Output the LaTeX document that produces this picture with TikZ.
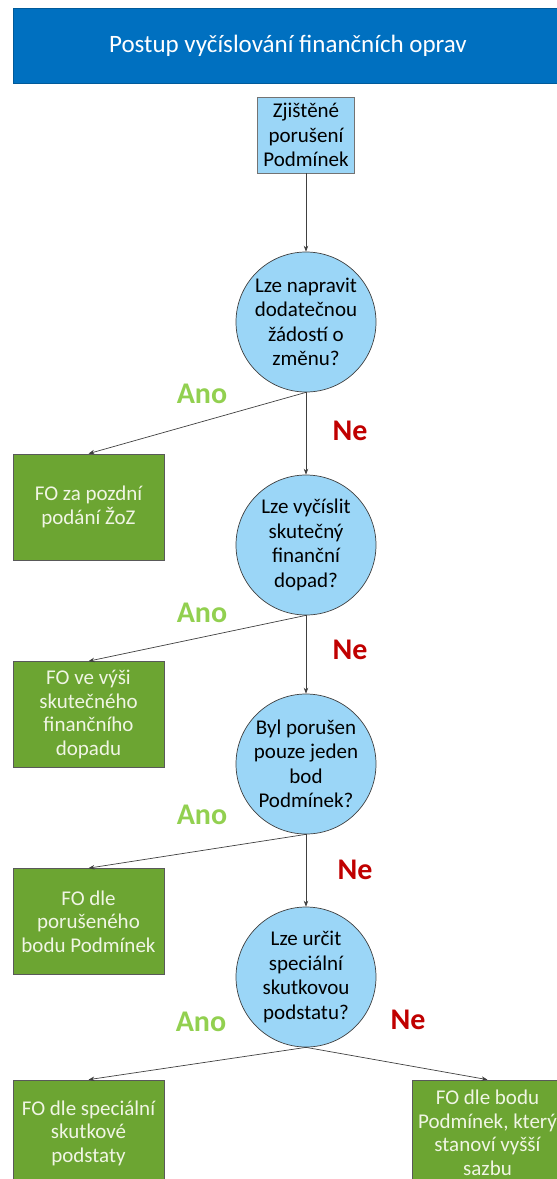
\documentclass[tikz,border=0pt]{standalone}
\usepackage{fontspec}
\setmainfont{Carlito}
\usetikzlibrary{arrows.meta}

\definecolor{titleblue}{RGB}{0,112,192}
\definecolor{askblue}{RGB}{155,214,247}
\definecolor{fogreen}{RGB}{108,165,50}
\definecolor{fotext}{RGB}{240,245,228}
\definecolor{anogreen}{RGB}{146,208,80}
\definecolor{nered}{RGB}{192,0,0}

\begin{document}
\begin{tikzpicture}[x=1pt, y=-1pt,
	question/.style={fill=askblue, draw=black!75, line width=0.7pt, shape=circle, minimum size=140pt, inner sep=0pt, align=center, font=\fontsize{21}{24.5}\selectfont},
	result/.style={fill=fogreen, draw=black!65, line width=0.7pt, shape=rectangle, minimum width=151pt, minimum height=106pt, inner sep=0pt, align=center, text=fotext, font=\fontsize{21}{23.5}\selectfont},
	ano/.style={text=anogreen, font=\fontsize{30}{30}\selectfont\bfseries},
	ne/.style={text=nered, font=\fontsize{30}{30}\selectfont\bfseries},
	link/.style={draw=black!75, line width=0.7pt, -{Stealth[length=6pt, width=4.5pt]}}]
		\path[use as bounding box, clip] (0, 0) rectangle (557, 1179);
		\node [fill=titleblue, draw=titleblue!80!black, shape=rectangle, minimum width=550pt, minimum height=75pt, text=white, font=\fontsize{25}{30}\selectfont] (0) at (288, 45.5) {Postup vyčíslování finančních oprav};
		\node [fill=askblue, draw=black!55, line width=0.7pt, shape=rectangle, minimum width=97pt, minimum height=76pt, inner sep=0pt, align=center, font=\fontsize{21}{24.5}\selectfont] (1) at (306, 135) {Zjištěné\\porušení\\Podmínek};
		\node [question] (2) at (306, 322) {Lze napravit\\dodatečnou\\žádostí o\\změnu?};
		\node [question] (3) at (306, 545) {Lze vyčíslit\\skutečný\\finanční\\dopad?};
		\node [question] (4) at (306, 764) {Byl porušen\\pouze jeden\\bod\\Podmínek?};
		\node [question] (5) at (306, 977) {Lze určit\\speciální\\skutkovou\\podstatu?};
		\node [result] (6) at (88.5, 507) {FO za pozdní\\podání ŽoZ};
		\node [result] (7) at (88.5, 714.5) {FO ve výši\\skutečného\\finančního\\dopadu};
		\node [result] (8) at (88.5, 921.5) {FO dle\\porušeného\\bodu Podmínek};
		\node [result] (9) at (88.5, 1133) {FO dle speciální\\skutkové\\podstaty};
		\node [result] (10) at (487.5, 1133) {FO dle bodu\\Podmínek, který\\stanoví vyšší\\sazbu};
		\node [ano] (11) at (202, 394) {Ano};
		\node [ne] (12) at (350, 431) {Ne};
		\node [ano] (13) at (202, 613) {Ano};
		\node [ne] (14) at (350, 650) {Ne};
		\node [ano] (15) at (202, 815) {Ano};
		\node [ne] (16) at (355, 870) {Ne};
		\node [ano] (17) at (201, 1022) {Ano};
		\node [ne] (18) at (408, 1020) {Ne};
		\draw [link] (1.south) -- (2.north);
		\draw [link] (2.south) -- (3.north);
		\draw [link] (3.south) -- (4.north);
		\draw [link] (4.south) -- (5.north);
		\draw [link] (2.south) -- (6.north);
		\draw [link] (3.south) -- (7.north);
		\draw [link] (4.south) -- (8.north);
		\draw [link] (5.south) -- (9.north);
		\draw [link] (5.south) -- (10.north);
	\end{tikzpicture}
\end{document}
